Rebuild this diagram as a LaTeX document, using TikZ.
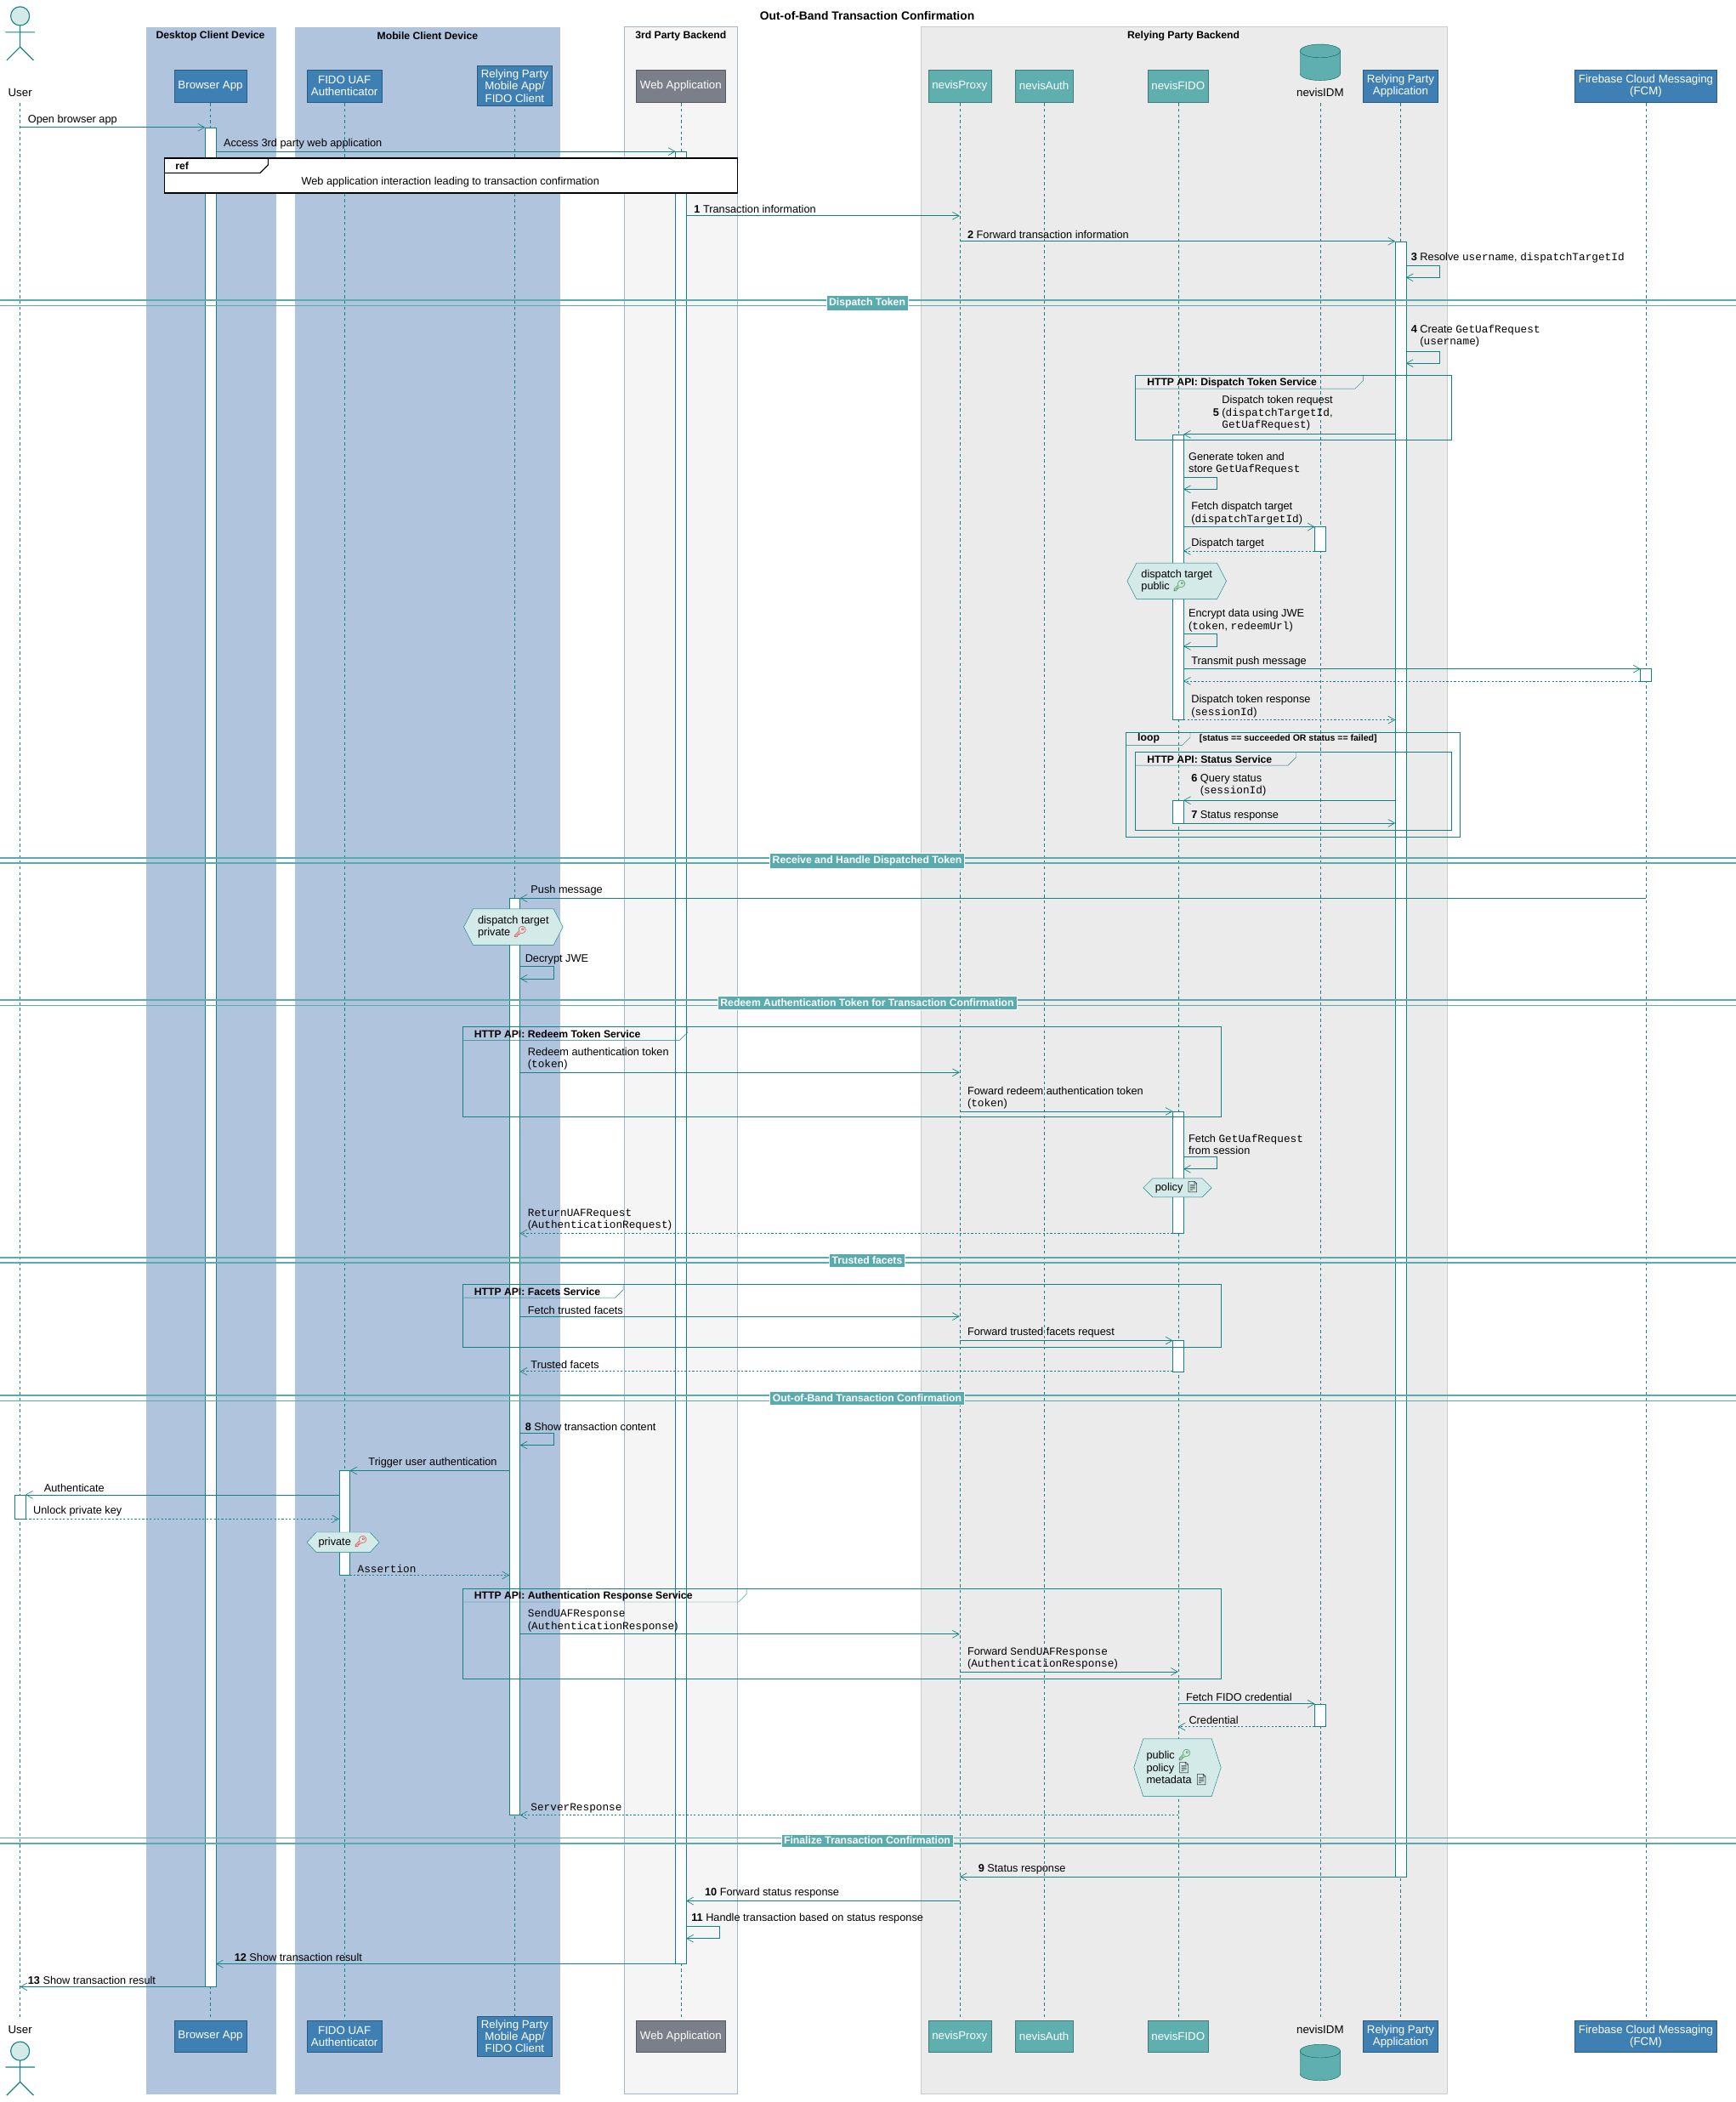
\documentclass[tikz,border=0pt]{standalone}
\usepackage{fontspec}
\setmainfont{Liberation Sans}
\setmonofont{Liberation Mono}
\newfontfamily\emo{Noto Emoji}
\usetikzlibrary{arrows.meta,calc}

\definecolor{seqline}{HTML}{138283}
\definecolor{darkpart}{HTML}{3E80B3}
\definecolor{graypart}{HTML}{7A7F89}
\definecolor{tealpart}{HTML}{5FAFAF}
\definecolor{desktopbg}{HTML}{B0C4DE}
\definecolor{thirdbg}{HTML}{F5F5F5}
\definecolor{rpbg}{HTML}{EBEBEB}
\definecolor{hexfill}{HTML}{D3EAE9}
\definecolor{divfill}{HTML}{5AABAD}

% lifeline x positions
\def\xU{15}\def\xB{157}\def\xA{257}\def\xM{384}\def\xW{508}
\def\xP{716}\def\xN{779}\def\xF{879}\def\xI{985}\def\xR{1045}\def\xC{1228}

\newcommand\msg[5][]{%
  \draw[msgarrow,#1] (#2,#4) -- (#3,#4);
  \node[lbl] at ({min(#2,#3)+5},#4-1) {#5};}
\newcommand\selfmsg[3]{%
  \draw[msgarrow] (#1,#2) -- ++(25,0) -- ++(0,9) -- ++(-25,0);
  \node[lbl] at (#1+3,#2-1) {#3};}
\newcommand\act[3]{\draw[actbox] (#1-4,#2) rectangle (#1+4,#3);}
\newcommand\hexnote[5]{%
  \draw[seqline,fill=hexfill] (#1,{(#3+#4)/2}) -- (#1+7,#3) -- (#2-7,#3) -- (#2,{(#3+#4)/2}) -- (#2-7,#4) -- (#1+7,#4) -- cycle;
  \node[lbl,anchor=center,align=left] at ({(#1+#2)/2},{(#3+#4)/2}) {#5};}
\newcommand\divider[2]{%
  \draw[divfill,line width=1.5pt] (0,#1-2) -- (1295,#1-2) (0,#1+2) -- (1295,#1+2);
  \node[divlbl] at (647,#1) {#2};}
\newcommand\grp[6]{%
  \draw[seqline] (#1,#2) rectangle (#3,#4);
  \draw[seqline] (#1,#2+10) -- (#1+#6-6,#2+10) -- (#1+#6,#2+4) -- (#1+#6,#2);
  \node[lbl,anchor=west,font=\fontsize{11}{12}\selectfont\bfseries] at (#1+8,#2+5.5) {#5};}
\newcommand\pubkey{\textcolor{green!45!black}{\emo 🔑}}
\newcommand\privkey{\textcolor{red!90!black}{\emo 🔑}}
\newcommand\docicon{{\emo 📄}}

\begin{document}
\begin{tikzpicture}[x=0.05cm, y=-0.05cm,
    font=\fontsize{11.5}{13}\selectfont,
    msgarrow/.style={seqline, line width=0.6pt, -{Straight Barb[length=7pt,width=8pt]}},
    retarrow/.style={dash pattern=on 2pt off 2pt},
    lbl/.style={anchor=south west, inner sep=1pt, align=left},
    actbox/.style={draw=seqline, fill=white},
    lifeline/.style={seqline, dash pattern=on 3pt off 3pt},
    part/.style={draw=#1!70!black, fill=#1, text=white, align=center, minimum height=24*0.05cm, inner sep=4pt, font=\fontsize{12}{13}\selectfont},
    boxtitle/.style={font=\fontsize{11}{12}\selectfont\bfseries},
    divlbl/.style={fill=divfill, draw=white, text=white, inner sep=3pt, font=\fontsize{11}{12}\selectfont\bfseries}]

\useasboundingbox (0,0) rectangle (1295,1568);
\node[font=\fontsize{12.5}{14}\selectfont\bfseries] (title) at (647,12) {Out-of-Band Transaction Confirmation};

% device boxes
\fill[desktopbg] (109,20) rectangle (206,1562);
\fill[desktopbg] (220,20) rectangle (418,1562);
\draw[desktopbg!80!gray,fill=thirdbg] (466,20) rectangle (550,1562);
\draw[gray!40,fill=rpbg] (687,20) rectangle (1080,1562);
\node[boxtitle] (desktop) at (157,27) {Desktop Client Device};
\node[boxtitle] (mobile) at (319,27) {Mobile Client Device};
\node[boxtitle] (third) at (508,27) {3rd Party Backend};
\node[boxtitle] (rpback) at (883,27) {Relying Party Backend};

% lifelines
\foreach \x in {\xU,\xB,\xA,\xM,\xW,\xP,\xN,\xF,\xI,\xR,\xC}
  \draw[lifeline] (\x,77) -- (\x,1506);

% participants, top and bottom
\foreach \y/\s in {64/t,1519/b}{
  \node[part=darkpart] (browser\s) at (\xB,\y) {Browser App};
  \node[part=darkpart] (uaf\s) at (\xA,\y) {FIDO UAF\\Authenticator};
  \node[part=darkpart] (rpmobile\s) at (\xM,\y) {Relying Party\\Mobile App/\\FIDO Client};
  \node[part=graypart] (webapp\s) at (\xW,\y) {Web Application};
  \node[part=tealpart] (proxy\s) at (\xP,\y) {nevisProxy};
  \node[part=tealpart] (auth\s) at (\xN,\y) {nevisAuth};
  \node[part=tealpart] (fido\s) at (\xF,\y) {nevisFIDO};
  \node[part=darkpart] (rpapp\s) at (\xR,\y) {Relying Party\\Application};
  \node[part=darkpart] (fcm\s) at (\xC,\y) {Firebase Cloud Messaging\\(FCM)};
}
% actor User
\node[font=\fontsize{12}{13}\selectfont] (usert) at (\xU,69) {User};
\node[font=\fontsize{12}{13}\selectfont] (userb) at (\xU,1514) {User};
\foreach \y in {5,1523}{
  \draw[seqline,fill=hexfill,line width=1pt] (\xU,\y+7) circle[radius=7*0.05cm];
  \draw[seqline,line width=1pt] (\xU,\y+14) -- (\xU,\y+30) (\xU-11,\y+19) -- (\xU+11,\y+19)
     (\xU-10,\y+40) -- (\xU,\y+30) -- (\xU+10,\y+40);
}
% database nevisIDM
\node[font=\fontsize{12}{13}\selectfont] (idmt) at (\xI,69) {nevisIDM};
\node[font=\fontsize{12}{13}\selectfont] (idmb) at (\xI,1514) {nevisIDM};
\foreach \y in {38,1530}{
  \draw[seqline!80!black,fill=tealpart] (\xI-15,\y) -- (\xI-15,\y+17) arc[start angle=180,end angle=0,x radius=15,y radius=5]
     -- (\xI+15,\y) arc[start angle=0,end angle=-180,x radius=15,y radius=5] -- cycle;
  \draw[seqline!80!black] (\xI-15,\y) arc[start angle=180,end angle=0,x radius=15,y radius=5];
}

% activations
\act{\xB}{95}{1482}
\act{\xW}{113}{1465}
\act{\xR}{180}{1400}
\act{\xF}{324}{537}
\act{\xI}{393}{411}
\act{\xC}{499}{508}
\act{\xF}{597}{614}
\act{\xM}{670}{1354}
\act{\xF}{829}{920}
\act{\xF}{1000}{1023}
\act{\xA}{1097}{1175}
\act{\xU}{1115}{1133}
\act{\xI}{1271}{1288}

% messages
\msg{\xU}{153}{95}{Open browser app}
\msg{161}{504}{113}{Access 3rd party web application}
\draw[black,line width=1pt,fill=white] (123,118) rectangle (550,144);
\draw[black,line width=1pt] (123,129) -- (194,129) -- (200,123) -- (200,118);
\node[lbl,anchor=west,font=\fontsize{11}{12}\selectfont\bfseries] (ref) at (130,123.5) {ref};
\node (refbody) at (336,136) {Web application interaction leading to transaction confirmation};
\msg{512}{\xP}{161}{\textbf{1} Transaction information}
\msg{\xP}{1041}{180}{\textbf{2} Forward transaction information}
\selfmsg{1049}{198}{\textbf{3} Resolve \texttt{username}, \texttt{dispatchTargetId}}
\divider{226}{Dispatch Token}
\selfmsg{1049}{262}{\textbf{4} \begin{tabular}[t]{@{}l@{}}Create \texttt{GetUafRequest}\\(\texttt{username})\end{tabular}}
\grp{847}{280}{1083}{328}{HTTP API: Dispatch Token Service}{170}
\msg{1041}{883}{324}{\qquad\textbf{5} \begin{tabular}[c]{@{}l@{}}Dispatch token request\\(\texttt{dispatchTargetId},\\\texttt{GetUafRequest})\end{tabular}}
\selfmsg{883}{356}{Generate token and\\store \texttt{GetUafRequest}}
\msg{883}{981}{393}{Fetch dispatch target\\(\texttt{dispatchTargetId})}
\msg[retarrow]{981}{883}{411}{Dispatch target}
\hexnote{841}{915}{420}{447}{dispatch target\\public \pubkey}
\selfmsg{883}{473}{Encrypt data using JWE\\(\texttt{token}, \texttt{redeemUrl})}
\msg{883}{1224}{499}{Transmit push message}
\draw[msgarrow,retarrow] (1224,508) -- (883,508);
\msg[retarrow]{883}{1041}{537}{Dispatch token response\\(\texttt{sessionId})}
\draw[seqline] (840,546) rectangle (1089,624);
\draw[seqline] (840,556) -- (882,556) -- (888,550) -- (888,546);
\node[lbl,anchor=west,font=\fontsize{11}{12}\selectfont\bfseries] (loop) at (848,551) {loop};
\node[lbl,anchor=west,font=\fontsize{9.5}{11}\selectfont\bfseries] (guard) at (894,551) {[status == succeeded OR status == failed]};
\grp{847}{561}{1083}{619}{HTTP API: Status Service}{120}
\msg{1041}{883}{597}{\textbf{6} \begin{tabular}[t]{@{}l@{}}Query status\\(\texttt{sessionId})\end{tabular}}
\msg{883}{1041}{614}{\textbf{7} Status response}
\divider{642}{Receive and Handle Dispatched Token}
\msg{\xC}{388}{670}{\ Push message}
\hexnote{346}{420}{678}{705}{dispatch target\\private \privkey}
\selfmsg{388}{721}{Decrypt JWE}
\divider{748}{Redeem Authentication Token for Transaction Confirmation}
\grp{345}{766}{911}{833}{HTTP API: Redeem Token Service}{168}
\msg{388}{\xP}{800}{Redeem authentication token\\(\texttt{token})}
\msg{\xP}{875}{829}{Foward redeem authentication token\\(\texttt{token})}
\selfmsg{883}{863}{Fetch \texttt{GetUafRequest}\\from session}
\hexnote{853}{904}{879}{893}{policy \docicon}
\msg[retarrow]{875}{388}{920}{\texttt{ReturnUAFRequest}\\(\texttt{AuthenticationRequest})}
\divider{940}{Trusted facets}
\grp{345}{958}{911}{1005}{HTTP API: Facets Service}{120}
\msg{388}{\xP}{982}{Fetch trusted facets}
\msg{\xP}{875}{1000}{Forward trusted facets request}
\msg[retarrow]{875}{388}{1023}{\ Trusted facets}
\divider{1043}{Out-of-Band Transaction Confirmation}
\selfmsg{388}{1069}{\textbf{8} Show transaction content}
\msg{380}{261}{1097}{\quad Trigger user authentication}
\msg{253}{19}{1115}{\quad Authenticate}
\msg[retarrow]{19}{253}{1133}{Unlock private key}
\hexnote{229}{283}{1143}{1158}{private \privkey}
\msg[retarrow]{261}{380}{1175}{\texttt{Assertion}}
\grp{345}{1185}{911}{1252}{HTTP API: Authentication Response Service}{212}
\msg{388}{\xP}{1219}{\texttt{SendUAFResponse}\\(\texttt{AuthenticationResponse})}
\msg{\xP}{\xF}{1247}{Forward \texttt{SendUAFResponse}\\(\texttt{AuthenticationResponse})}
\msg{\xF}{981}{1271}{Fetch FIDO credential}
\msg[retarrow]{981}{\xF}{1288}{\ Credential}
\hexnote{846}{911}{1297}{1340}{public \pubkey\\policy \docicon\\metadata \docicon}
\msg[retarrow]{\xF}{388}{1354}{\ \texttt{ServerResponse}}
\divider{1373}{Finalize Transaction Confirmation}
\msg{1041}{\xP}{1400}{\quad\textbf{9} Status response}
\msg{\xP}{512}{1418}{\quad\textbf{10} Forward status response}
\selfmsg{512}{1437}{\textbf{11} Handle transaction based on status response}
\msg{504}{161}{1465}{\quad\textbf{12} Show transaction result}
\msg{153}{\xU}{1482}{\textbf{13} Show transaction result}
\end{tikzpicture}
\end{document}
